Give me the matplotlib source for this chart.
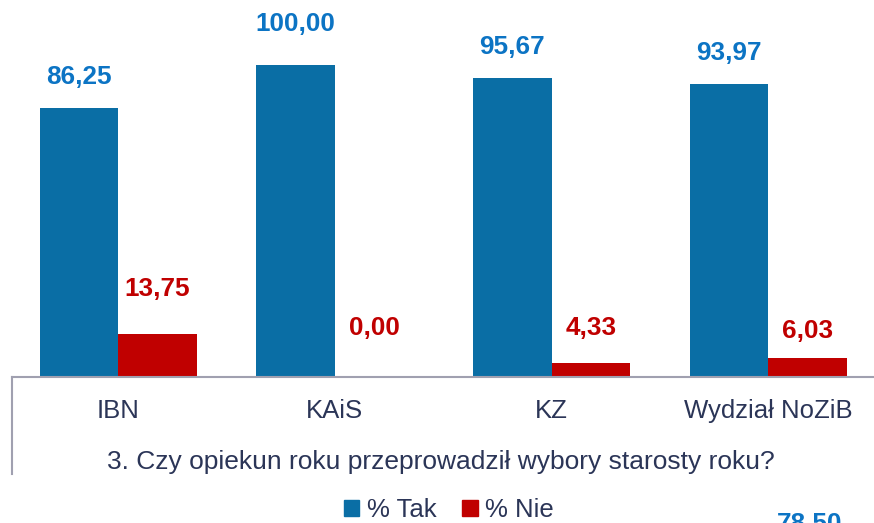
import matplotlib.pyplot as plt
from matplotlib.lines import Line2D
from matplotlib.patches import Patch
import numpy as np

plt.rcParams["font.family"] = ["Liberation Sans", "DejaVu Sans"]

# data
categories = ["IBN", "KAiS", "KZ", "Wydział NoZiB"]
tak = [86.25, 100.00, 95.67, 93.97]
nie = [13.75, 0.00, 4.33, 6.03]
title = "3. Czy opiekun roku przeprowadził wybory starosty roku?"
next_value = "78,50"  # label of the chart below, cut off at the edge

BLUE = "#0A6EA5"
BLUE_TXT = "#0C74C4"
RED = "#C00000"
NAVY = "#2B3557"
W, H = 874, 523

fig = plt.figure(figsize=(W / 100, H / 100), dpi=100)
ax = fig.add_axes([12 / W, 146 / H, 862 / W, 377 / H])

x = np.arange(len(categories))
bw = 0.362
ax.bar(x - bw / 2, tak, bw, color=BLUE)
ax.bar(x + bw / 2, nie, bw, color=RED)
ax.set_xlim(-0.49, 3.488)
ax.set_ylim(0, 120.8)

# value labels, offsets (px) as placed in the original
tak_off = [31, 41, 31, 31]
nie_off = [45, 49, 35, 27]
fmt = lambda v: f"{v:.2f}".replace(".", ",")
for i in range(len(categories)):
    ax.annotate(fmt(tak[i]), (x[i] - bw / 2, tak[i]), xytext=(0, tak_off[i] * 0.72),
                textcoords="offset points", ha="center", va="center",
                fontsize=18.8, fontweight="bold", color=BLUE_TXT)
    ax.annotate(fmt(nie[i]), (x[i] + bw / 2, nie[i]), xytext=(0, nie_off[i] * 0.72),
                textcoords="offset points", ha="center", va="center",
                fontsize=18.8, fontweight="bold", color=RED)

for s in ["top", "right", "left"]:
    ax.spines[s].set_visible(False)
ax.spines["bottom"].set_color("#A0A0B0")
ax.spines["bottom"].set_linewidth(1.5)
ax.set_yticks([])
ax.set_xticks(x)
ax.set_xticklabels(categories, fontsize=18.5, color=NAVY)
ax.tick_params(axis="x", length=0, pad=16)

# left border line under the axis
fig.add_artist(Line2D([12 / W, 12 / W], [1 - 377 / H, 1 - 474 / H], color="#A0A0B0", lw=1.5))

fig.text(441 / W, 1 - 462 / H, title, ha="center", va="center", fontsize=19, color=NAVY)

handles = [Patch(color=BLUE, label="% Tak"), Patch(color=RED, label="% Nie")]
fig.legend(handles=handles, loc="center", bbox_to_anchor=(449 / W, 1 - 510 / H), ncol=2,
           frameon=False, fontsize=18.5, labelcolor=NAVY, handlelength=0.6, handleheight=0.6,
           handletextpad=0.3, columnspacing=1.0)

# partly visible at the bottom edge, as in the original
fig.text(810 / W, 1 - 531 / H, next_value, ha="center", va="baseline",
         fontsize=18.8, fontweight="bold", color=BLUE_TXT)

fig.savefig("out.png", dpi=100)
